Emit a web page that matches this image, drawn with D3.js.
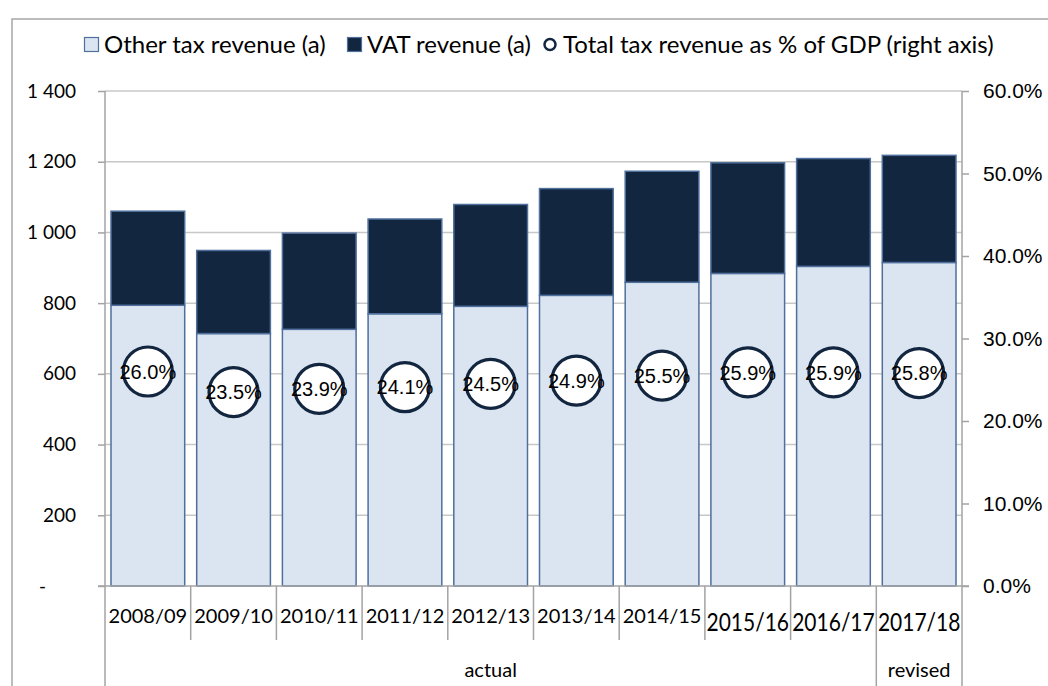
<!DOCTYPE html>
<html>
<head>
<meta charset="utf-8">
<script src="https://cdn.jsdelivr.net/npm/d3@7"></script>
<style>
    body { margin: 0; background: white; }
    svg { display: block; }
</style>
</head>
<body>
<div id="chart"></div>
<script>
// Data (R billion, and % of GDP).
const years = ['2008/09', '2009/10', '2010/11', '2011/12', '2012/13', '2013/14', '2014/15', '2015/16', '2016/17', '2017/18']
const otherTax = [794, 714, 726, 770, 791, 822, 859, 884, 904, 915]
const vatTax = [266, 235, 272, 268, 288, 302, 314, 313, 305, 303]
const taxPctGdp = [26.0, 23.5, 23.9, 24.1, 24.5, 24.9, 25.5, 25.9, 25.9, 25.8]
const groups = [{label: 'actual', from: 0, to: 9}, {label: 'revised', from: 9, to: 10}]
const leftTicks = [0, 200, 400, 600, 800, 1000, 1200, 1400]
const rightTicks = [0, 10, 20, 30, 40, 50, 60]
const legendItems = ['Other tax revenue (a)', 'VAT revenue (a)', 'Total tax revenue as % of GDP (right axis)']

class TaxChart {
    constructor(_config) {
        this.config = {
            parentElement: _config.parentElement,
            containerWidth: _config.containerWidth,
            containerHeight: _config.containerHeight,
            margin: {top: 91, right: 86, bottom: 100, left: 105},
            lightFill: '#dbe5f1',
            darkFill: '#13263f',
            barStroke: '#4f6f9c',
            grid: '#c8c8c8',
            axis: '#a3a3a3'
        }
        this.initVis()
    }

    initVis() {
        let vis = this

        vis.width = vis.config.containerWidth - vis.config.margin.left - vis.config.margin.right
        vis.height = vis.config.containerHeight - vis.config.margin.top - vis.config.margin.bottom

        vis.svg = d3.select(vis.config.parentElement)
            .append('svg')
            .attr('width', vis.config.containerWidth)
            .attr('height', vis.config.containerHeight)

        // Outer frame of the chart area.
        vis.svg.append('rect')
            .attr('x', 12)
            .attr('y', 19)
            .attr('width', vis.config.containerWidth + 20)
            .attr('height', vis.config.containerHeight + 20)
            .attr('fill', 'none')
            .attr('stroke', '#a6a6a6')
            .attr('stroke-width', 1.5)

        vis.chart = vis.svg.append('g')
            .attr('transform', `translate(${vis.config.margin.left}, ${vis.config.margin.top})`)

        vis.xScale = d3.scaleBand()
            .domain(years)
            .range([0, vis.width])
            .paddingInner(0.14)
            .paddingOuter(0.07)

        vis.yScale = d3.scaleLinear()
            .domain([0, 1400])
            .range([vis.height, 0])

        vis.yScaleRight = d3.scaleLinear()
            .domain([0, 60])
            .range([vis.height, 0])

        vis.stack = d3.stack().keys(['other', 'vat'])
        vis.stackData = vis.stack(years.map((y, i) => ({year: y, other: otherTax[i], vat: vatTax[i]})))

        vis.renderVis()
    }

    renderVis() {
        let vis = this
        const step = vis.xScale.step()

        // Gridlines.
        vis.chart.append('g')
            .selectAll('line')
            .data(leftTicks.filter(d => d > 0))
            .join('line')
            .attr('x1', 0)
            .attr('x2', vis.width)
            .attr('y1', d => vis.yScale(d))
            .attr('y2', d => vis.yScale(d))
            .attr('stroke', vis.config.grid)
            .attr('stroke-width', 1.5)

        // Stacked bars.
        vis.chart.selectAll('.layer')
            .data(vis.stackData)
            .join('g')
            .attr('class', 'layer')
            .attr('fill', d => d.key === 'other' ? vis.config.lightFill : vis.config.darkFill)
            .selectAll('rect')
            .data(d => d)
            .join('rect')
            .attr('x', d => vis.xScale(d.data.year))
            .attr('y', d => vis.yScale(d[1]))
            .attr('width', vis.xScale.bandwidth())
            .attr('height', d => vis.yScale(d[0]) - vis.yScale(d[1]))
            .attr('stroke', vis.config.barStroke)
            .attr('stroke-width', 1.5)

        // Left axis.
        const leftAxis = d3.axisLeft(vis.yScale)
            .tickValues(leftTicks)
            .tickSize(7)
            .tickPadding(22)
            .tickFormat(d => d === 0 ? '-' : d3.format(',')(d).replace(',', '\u00a0'))
        const gLeft = vis.chart.append('g').call(leftAxis)
        gLeft.select('.domain').remove()
        gLeft.selectAll('line').attr('stroke', vis.config.axis).attr('stroke-width', 1.5)
        gLeft.selectAll('text')
            .attr('font-family', 'Lato, sans-serif')
            .attr('font-size', 19)
            .attr('fill', '#000')
            .attr('dx', d => d === 0 ? -30 : 0)

        // Right axis.
        const rightAxis = d3.axisRight(vis.yScaleRight)
            .tickValues(rightTicks)
            .tickSize(7)
            .tickPadding(14)
            .tickFormat(d => d3.format('.1f')(d) + '%')
        const gRight = vis.chart.append('g')
            .attr('transform', `translate(${vis.width}, 0)`)
            .call(rightAxis)
        gRight.select('.domain').remove()
        gRight.selectAll('line').attr('stroke', vis.config.axis).attr('stroke-width', 1.5)
        gRight.selectAll('text')
            .attr('font-family', 'Liberation Sans, Arial, sans-serif')
            .attr('font-size', 21)
            .attr('fill', '#000')

        // Vertical axis lines, running down through the category table.
        const bottom = vis.config.containerHeight - vis.config.margin.top
        vis.chart.selectAll('.vline')
            .data([0, vis.width])
            .join('line')
            .attr('class', 'vline')
            .attr('x1', d => d)
            .attr('x2', d => d)
            .attr('y1', 0)
            .attr('y2', bottom)
            .attr('stroke', vis.config.axis)
            .attr('stroke-width', 1.5)

        // Baseline.
        vis.chart.append('line')
            .attr('x1', -7)
            .attr('x2', vis.width + 7)
            .attr('y1', vis.height)
            .attr('y2', vis.height)
            .attr('stroke', vis.config.axis)
            .attr('stroke-width', 1.5)

        // Category separators.
        const edges = d3.range(1, years.length)
        const groupEdges = groups.map(g => g.from).concat(groups.map(g => g.to))
        vis.chart.selectAll('.sep')
            .data(edges)
            .join('line')
            .attr('class', 'sep')
            .attr('x1', i => i * step)
            .attr('x2', i => i * step)
            .attr('y1', vis.height)
            .attr('y2', i => groupEdges.includes(i) ? bottom : vis.height + 54)
            .attr('stroke', vis.config.axis)
            .attr('stroke-width', 1.5)

        // Category labels; the last three are drawn larger and condensed.
        vis.chart.selectAll('.cat')
            .data(years)
            .join('text')
            .attr('class', 'cat')
            .attr('transform', (d, i) => {
                const x = vis.xScale(d) + vis.xScale.bandwidth() / 2
                return i >= 7
                    ? `translate(${x}, ${vis.height + 45}) scale(0.84, 1)`
                    : `translate(${x}, ${vis.height + 37})`
            })
            .attr('text-anchor', 'middle')
            .attr('font-family', 'Lato, sans-serif')
            .attr('font-size', (d, i) => i >= 7 ? 25 : 20)
            .text(d => d)

        // Group labels.
        vis.chart.selectAll('.grp')
            .data(groups)
            .join('text')
            .attr('class', 'grp')
            .attr('x', d => (d.from + d.to) / 2 * step)
            .attr('y', vis.height + 91)
            .attr('text-anchor', 'middle')
            .attr('font-family', 'Lato, sans-serif')
            .attr('font-size', 20)
            .text(d => d.label)

        // Tax revenue as % of GDP markers.
        const dots = vis.chart.selectAll('.dot')
            .data(years)
            .join('g')
            .attr('class', 'dot')
            .attr('transform', (d, i) => `translate(${vis.xScale(d) + vis.xScale.bandwidth() / 2}, ${vis.yScaleRight(taxPctGdp[i])})`)
        dots.append('circle')
            .attr('r', 24.5)
            .attr('fill', 'white')
            .attr('stroke', vis.config.darkFill)
            .attr('stroke-width', 3.2)
        dots.append('text')
            .attr('text-anchor', 'middle')
            .attr('dy', '0.36em')
            .attr('font-family', 'Liberation Sans, Arial, sans-serif')
            .attr('font-size', 20)
            .text((d, i) => d3.format('.1f')(taxPctGdp[i]) + '%')

        // Legend.
        const legend = vis.svg.append('g')
            .attr('transform', 'translate(84, 44.5)')
        const legendX = [0, 263, 459]
        const items = legend.selectAll('g')
            .data(legendItems)
            .join('g')
            .attr('transform', (d, i) => `translate(${legendX[i]}, 0)`)
        items.filter((d, i) => i < 2)
            .append('rect')
            .attr('x', 0.5)
            .attr('y', -7)
            .attr('width', 14)
            .attr('height', 14)
            .attr('fill', (d, i) => i === 0 ? vis.config.lightFill : vis.config.darkFill)
            .attr('stroke', vis.config.barStroke)
            .attr('stroke-width', 1.2)
        items.filter((d, i) => i === 2)
            .append('circle')
            .attr('cx', 7)
            .attr('cy', 0)
            .attr('r', 5.5)
            .attr('fill', 'white')
            .attr('stroke', vis.config.darkFill)
            .attr('stroke-width', 2.5)
        items.append('text')
            .attr('x', 20)
            .attr('y', 8.5)
            .attr('font-family', 'Lato, sans-serif')
            .attr('font-size', 24)
            .text(d => d)
    }
}

new TaxChart({parentElement: '#chart', containerWidth: 1048, containerHeight: 686})
</script>
</body>
</html>
